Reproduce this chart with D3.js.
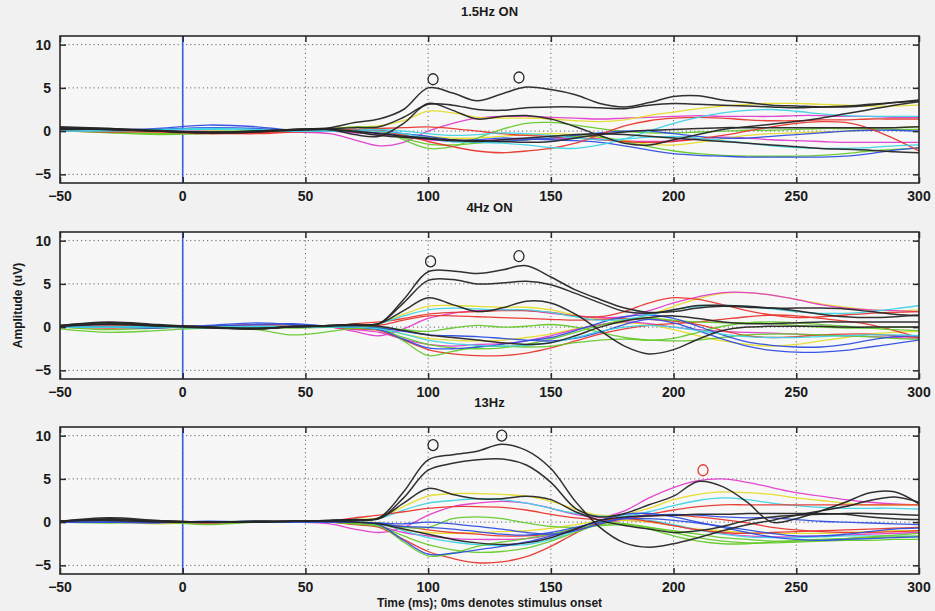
<!DOCTYPE html>
<html>
<head>
<meta charset="utf-8">
<script src="https://cdn.jsdelivr.net/npm/d3@7"></script>
<style>
  body { margin: 0; background: #f1f1f1; }
  svg { display: block; font-family: "Liberation Sans", Arial, sans-serif; }
</style>
</head>
<body>
<div id="chart"></div>
<script>
const TIME = [-50,-30,-10,10,30,45,60,70,80,90,100,110,120,130,140,150,160,170,180,190,200,210,220,230,240,250,260,270,280,290,300];
const X_TICKS = [-50,0,50,100,150,200,250,300];
const Y_TICKS = [-5,0,5,10];
const TITLES = ["1.5Hz ON", "4Hz ON", "13Hz"];

// 1.5Hz ON
const traces15 = [
  ["magenta", [0.2,0.2,0.1,0.0,0.0,-0.1,-0.3,-1.0,-1.7,-1.3,0.0,0.9,1.5,1.7,1.7,1.6,1.5,1.4,1.5,1.6,1.7,1.8,1.7,1.7,1.7,1.8,1.8,1.7,1.7,1.6,1.6]],
  ["magenta", [0.0,0.1,0.0,-0.1,0.0,0.0,0.0,-0.2,-0.4,-0.7,-1.0,-1.1,-1.1,-1.0,-1.0,-0.9,-0.8,-0.9,-1.1,-1.2,-1.1,-0.9,-0.7,-0.8,-1.0,-1.1,-1.2,-1.3,-1.3,-1.3,-1.3]],
  ["yellow",  [0.3,0.2,0.0,-0.2,0.0,0.1,0.3,0.5,0.6,1.2,2.3,2.1,1.6,1.5,1.5,1.4,1.2,1.1,1.3,1.8,2.2,2.6,2.9,3.1,3.2,3.2,3.1,3.0,2.9,2.9,3.0]],
  ["yellow",  [0.0,0.0,-0.1,0.0,0.1,0.0,0.0,0.0,-0.2,-0.4,-0.6,-0.8,-0.8,-0.6,-0.4,-0.3,-0.4,-0.7,-1.1,-1.5,-1.6,-1.3,-0.9,-0.5,-0.3,-0.2,-0.1,0.0,0.2,0.4,0.5]],
  ["green",   [0.1,-0.2,-0.4,-0.3,-0.1,0.1,0.2,0.5,0.3,-1.0,-2.0,-1.8,-0.8,0.2,0.9,1.0,0.7,0.3,0.0,-0.2,-0.2,-0.1,0.0,0.1,0.1,0.2,0.3,0.3,0.3,0.2,0.2]],
  ["green",   [0.0,-0.1,-0.3,-0.2,0.0,0.0,0.0,0.2,0.0,-0.8,-1.5,-1.6,-1.4,-1.2,-1.0,-0.8,-0.6,-0.7,-1.2,-1.8,-2.3,-2.6,-2.8,-2.9,-2.9,-2.9,-2.8,-2.6,-2.3,-2.1,-2.0]],
  ["blue",    [0.0,0.1,0.3,0.7,0.5,0.1,0.1,0.0,-0.2,-0.5,-0.9,-1.2,-1.0,-0.8,-0.9,-1.0,-1.1,-1.3,-1.7,-2.2,-2.6,-2.8,-2.9,-3.0,-3.0,-3.0,-3.0,-2.9,-2.6,-2.2,-1.9]],
  ["blue",    [0.0,0.0,0.2,0.4,0.3,0.0,0.0,0.0,0.1,-0.3,-0.6,-1.0,-1.3,-1.2,-1.0,-0.8,-0.5,-0.2,0.0,0.0,-0.3,-0.6,-0.8,-0.8,-0.6,-0.4,-0.2,0.0,0.1,0.1,0.0]],
  ["red",     [0.0,-0.1,-0.1,-0.3,-0.2,0.0,0.0,0.0,0.1,-0.5,-1.2,-1.8,-2.3,-2.5,-2.3,-2.0,-1.4,-0.4,0.6,1.2,1.5,1.6,1.5,1.3,1.2,1.2,1.3,1.3,1.4,1.4,1.4]],
  ["red",     [0.1,0.0,0.0,-0.2,-0.3,-0.1,0.0,0.2,0.3,0.4,0.5,0.3,0.0,-0.3,-0.5,-0.6,-0.8,-1.0,-1.2,-1.3,-1.2,-0.9,-0.5,0.0,0.5,0.9,1.1,1.0,0.3,-0.9,-2.3]],
  ["cyan",    [0.0,0.1,0.2,0.3,0.2,0.0,0.0,0.0,0.0,-0.3,-0.8,-1.2,-1.3,-1.4,-1.6,-1.9,-2.0,-1.6,-0.9,0.0,0.9,1.6,2.1,2.4,2.5,2.3,2.0,1.8,1.7,1.7,1.7]],
  ["cyan",    [0.0,0.0,0.1,0.2,0.1,0.0,0.0,0.1,0.2,0.0,-0.3,-0.5,-0.4,-0.2,-0.3,-0.5,-0.8,-1.0,-0.9,-0.7,-0.6,-0.8,-1.1,-1.4,-1.7,-1.9,-2.0,-2.0,-1.9,-1.7,-1.6]],
  ["black",   [0.5,0.3,0.1,-0.2,0.0,0.2,0.4,1.0,1.4,2.5,5.0,4.4,3.5,4.3,5.1,4.8,4.2,3.2,2.8,3.3,4.0,4.1,3.6,3.3,3.0,2.9,2.8,2.8,3.0,3.3,3.6]],
  ["black",   [0.4,0.3,0.0,-0.2,-0.1,0.2,0.3,0.4,0.5,1.6,3.1,3.0,2.5,2.4,2.7,2.8,2.8,2.7,2.6,3.0,3.2,3.1,3.0,2.9,2.8,2.7,2.8,2.9,3.1,3.3,3.5]],
  ["black",   [0.3,0.2,0.0,-0.1,0.0,0.2,0.2,-0.4,-0.6,0.9,3.2,2.4,1.4,1.7,1.8,1.4,0.5,-0.5,-1.4,-1.6,-1.0,-0.4,0.2,0.5,0.8,1.1,1.5,2.0,2.5,3.0,3.4]],
  ["black",   [0.2,0.2,0.0,-0.2,-0.1,0.1,0.2,0.0,-0.3,-0.6,-0.8,-1.0,-1.1,-1.2,-1.3,-1.2,-0.8,-0.4,-0.1,0.1,0.2,0.3,0.4,0.4,0.4,0.4,0.4,0.4,0.4,0.4,0.5]],
  ["black",   [0.3,0.2,0.0,-0.1,0.0,0.1,0.2,-0.1,-0.5,-0.7,-0.9,-1.1,-1.2,-1.0,-0.8,-0.6,-0.4,-0.3,-0.4,-0.6,-0.8,-1.0,-1.2,-1.4,-1.6,-1.8,-2.0,-2.1,-2.2,-2.4,-2.5]]
];
const peaks15 = [[102, 6.0, "black"], [137, 6.2, "black"]];

// 4Hz ON
const traces4 = [
  ["yellow",  [0.0,0.1,0.0,0.0,0.2,0.1,0.1,0.2,0.4,1.5,2.4,2.5,2.4,2.3,2.3,2.0,1.4,0.9,0.8,1.4,2.4,3.3,3.9,4.0,3.7,3.2,2.7,2.3,2.0,1.9,2.0]],
  ["yellow",  [0.0,0.0,0.0,0.0,0.1,0.0,0.0,-0.1,-0.2,-0.8,-1.3,-1.5,-1.6,-1.5,-1.2,-0.8,-0.2,0.3,0.5,0.3,-0.3,-1.0,-1.6,-2.0,-2.2,-2.0,-1.6,-1.2,-0.8,-0.6,-0.5]],
  ["magenta", [0.1,0.1,0.0,0.1,0.2,0.0,0.0,-0.5,-1.0,-0.2,1.0,1.6,1.9,2.0,1.9,1.6,1.3,1.1,1.2,1.9,2.8,3.5,4.0,4.0,3.7,3.2,2.6,2.2,2.0,1.9,1.8]],
  ["magenta", [0.0,0.0,0.0,-0.1,0.1,0.0,0.0,-0.3,-0.6,-1.4,-2.0,-2.2,-2.0,-1.9,-1.6,-1.0,-0.3,0.3,0.6,0.4,0.0,-0.3,-0.5,-0.6,-0.7,-0.8,-0.9,-1.0,-1.1,-1.2,-1.3]],
  ["red",     [0.0,0.1,0.2,0.1,0.3,0.2,0.1,0.4,0.6,1.0,1.5,1.7,1.8,1.9,1.9,1.7,1.3,1.2,1.8,2.8,3.4,3.2,2.6,1.9,1.4,1.1,1.2,1.4,1.6,1.7,1.8]],
  ["red",     [0.0,0.0,0.1,0.0,0.0,0.1,0.0,0.1,0.2,0.8,1.3,1.3,1.2,1.1,1.0,0.9,0.8,0.9,1.0,0.9,0.7,0.3,-0.4,-1.0,-1.2,-1.1,-0.9,-0.8,-0.8,-1.0,-1.2]],
  ["red",     [0.0,-0.1,0.0,-0.1,-0.1,0.0,0.0,-0.2,-0.4,-1.5,-2.6,-3.1,-3.3,-3.3,-3.0,-2.4,-1.6,-0.8,-0.2,0.2,0.4,0.6,0.9,1.2,1.4,1.3,1.0,0.7,0.3,-0.4,-1.2]],
  ["green",   [-0.2,-0.6,-0.4,-0.1,-0.3,-0.9,-0.5,-0.1,0.0,-1.6,-3.3,-2.8,-2.3,-2.2,-2.3,-2.2,-1.8,-1.5,-1.4,-1.5,-1.6,-1.5,-1.2,-0.9,-0.8,-0.8,-0.9,-1.0,-1.1,-1.3,-1.4]],
  ["green",   [0.0,-0.3,-0.1,0.1,0.0,-0.1,0.0,0.0,-0.1,-0.3,-0.5,-0.1,0.2,0.0,0.1,0.3,0.0,-0.6,-1.2,-1.5,-1.3,-0.6,0.1,0.5,0.6,0.5,0.3,0.1,-0.1,-0.3,-0.4]],
  ["green",   [0.0,0.0,0.0,0.0,0.0,0.0,0.0,-0.1,-0.3,-1.2,-2.0,-2.4,-2.5,-2.4,-2.0,-1.4,-0.6,0.2,0.8,1.0,0.8,0.6,0.5,0.5,0.4,0.2,0.0,-0.1,-0.1,0.0,0.0]],
  ["blue",    [0.0,0.0,-0.1,0.2,0.5,0.3,0.1,0.0,-0.3,-1.4,-2.4,-2.5,-2.3,-2.0,-1.6,-1.2,-0.4,0.5,1.2,1.4,1.0,0.1,-0.9,-1.7,-2.1,-2.3,-2.3,-2.0,-1.5,-1.1,-1.0]],
  ["blue",    [0.0,0.0,0.0,0.1,0.3,0.4,0.1,0.0,-0.1,-0.5,-0.9,-1.0,-1.1,-1.3,-1.5,-1.6,-1.3,-0.6,0.3,0.9,0.5,-0.4,-1.4,-2.2,-2.7,-2.9,-2.9,-2.7,-2.3,-1.9,-1.5]],
  ["cyan",    [0.0,0.0,0.1,0.0,0.1,0.1,0.1,0.2,0.4,1.3,2.0,2.2,2.1,2.0,2.0,1.7,1.2,0.8,0.9,1.4,2.0,2.4,2.5,2.4,2.1,1.8,1.6,1.6,1.8,2.1,2.5]],
  ["cyan",    [0.0,0.0,0.0,-0.1,0.0,0.0,0.0,0.0,-0.2,-0.8,-1.5,-1.9,-2.1,-2.2,-2.1,-1.8,-1.2,-0.5,0.0,0.2,0.0,-0.4,-0.8,-1.1,-1.2,-1.2,-1.1,-1.0,-0.9,-0.9,-1.0]],
  ["black",   [0.2,0.6,0.3,0.0,-0.2,0.1,0.2,0.3,0.4,3.2,6.4,6.5,6.2,6.6,7.1,5.8,4.3,3.2,2.2,1.7,1.8,2.2,2.4,2.3,2.2,2.2,2.2,2.1,1.8,1.5,1.3]],
  ["black",   [0.2,0.5,0.2,0.0,-0.2,0.1,0.2,0.3,0.4,2.8,5.4,5.5,5.0,5.1,5.3,4.9,3.9,2.8,1.8,1.6,2.0,2.5,2.5,2.4,2.2,1.9,1.5,1.2,1.1,1.2,1.4]],
  ["black",   [0.1,0.4,0.2,0.0,-0.1,0.0,0.2,0.3,0.4,1.9,3.4,2.6,1.8,2.2,3.0,2.8,1.5,-0.4,-2.2,-3.1,-2.6,-1.4,-0.4,0.0,0.1,0.1,0.1,0.0,0.0,0.0,0.0]],
  ["black",   [0.1,0.3,0.1,-0.1,-0.2,0.0,0.1,0.2,0.1,-0.4,-0.9,-1.2,-1.5,-1.8,-2.0,-1.8,-1.0,0.0,0.7,1.1,1.3,1.0,0.6,0.4,0.4,0.5,0.6,0.6,0.6,0.6,0.6]]
];
const peaks4 = [[101, 7.6, "black"], [137, 8.2, "black"]];

// 13Hz
const traces13 = [
  ["magenta", [0.0,0.1,0.0,-0.1,0.1,0.0,-0.2,-0.8,-1.2,-0.6,0.8,1.8,2.2,2.4,2.2,1.6,0.9,0.6,1.3,2.8,4.0,4.8,5.0,4.6,4.0,3.4,3.0,2.6,2.3,2.1,2.0]],
  ["magenta", [0.0,0.0,0.0,0.0,0.0,0.0,0.0,-0.2,-0.5,-1.2,-1.6,-1.9,-2.0,-2.0,-1.9,-1.5,-0.9,-0.2,0.2,0.0,-0.4,-0.9,-1.3,-1.6,-1.7,-1.7,-1.6,-1.5,-1.4,-1.3,-1.2]],
  ["yellow",  [0.0,0.1,0.0,-0.1,0.0,0.1,0.1,0.3,0.5,1.8,3.0,3.3,3.3,3.2,3.0,2.4,1.5,0.8,0.9,1.6,2.6,3.2,3.5,3.4,3.2,2.8,2.5,2.2,2.0,2.0,2.0]],
  ["yellow",  [0.0,0.0,-0.2,0.0,0.1,0.0,0.0,-0.1,-0.3,-0.9,-1.2,-1.3,-1.2,-1.1,-1.0,-0.7,-0.3,0.1,0.2,0.0,-0.4,-0.8,-1.0,-1.2,-1.3,-1.3,-1.3,-1.2,-1.1,-1.0,-1.0]],
  ["cyan",    [0.0,0.0,0.1,0.0,0.1,0.0,0.1,0.2,0.4,1.4,2.2,2.5,2.7,2.6,2.2,1.6,1.0,0.7,0.7,1.2,1.9,2.5,2.8,2.6,2.2,1.9,1.7,1.6,1.6,1.6,1.5]],
  ["cyan",    [0.0,0.0,0.0,-0.1,0.0,0.0,0.0,-0.1,-0.2,-1.0,-1.8,-2.3,-2.6,-2.7,-2.6,-2.0,-1.0,0.0,0.4,0.2,-0.3,-0.9,-1.4,-1.7,-1.8,-1.8,-1.7,-1.6,-1.6,-1.6,-1.7]],
  ["red",     [0.0,0.1,0.0,0.0,0.0,0.1,0.1,0.5,0.8,1.2,1.6,1.8,1.8,1.7,1.4,0.9,0.5,0.3,0.5,0.9,1.4,1.8,2.0,2.0,2.0,2.0,2.0,2.0,2.0,2.0,2.0]],
  ["red",     [0.0,0.0,0.0,-0.1,0.0,0.0,0.0,-0.3,-0.6,-2.0,-3.4,-4.2,-4.7,-4.6,-4.0,-2.8,-1.3,0.0,0.4,0.1,-0.4,-0.9,-1.2,-1.3,-1.2,-1.1,-1.0,-0.9,-0.8,-0.7,-0.6]],
  ["red",     [0.0,0.0,0.1,0.0,0.0,0.0,0.0,-0.1,-0.2,-0.5,-0.9,-1.2,-1.4,-1.6,-1.6,-1.4,-0.9,-0.2,0.4,0.7,0.8,0.6,0.3,-0.1,-0.6,-0.9,-1.1,-1.2,-1.2,-1.1,-1.0]],
  ["green",   [0.0,-0.1,0.0,-0.3,0.0,0.0,0.0,-0.2,-0.4,-2.3,-3.9,-3.6,-2.8,-2.3,-1.9,-1.4,-0.7,0.0,-0.2,-0.8,-1.6,-2.2,-2.5,-2.5,-2.3,-2.1,-2.0,-1.9,-1.8,-1.7,-1.6]],
  ["green",   [0.0,0.0,0.0,0.0,0.0,0.0,0.0,-0.2,-0.5,-1.6,-2.6,-3.2,-3.5,-3.4,-3.0,-2.2,-1.2,-0.3,-0.2,-0.6,-1.2,-1.8,-2.2,-2.4,-2.4,-2.3,-2.2,-2.1,-2.1,-2.0,-2.0]],
  ["green",   [0.0,0.0,0.0,0.0,0.0,0.0,0.0,0.0,-0.1,-0.6,-0.6,0.4,0.6,0.4,-0.1,-0.5,-0.6,-0.4,-0.3,-0.6,-1.0,-1.4,-1.8,-2.0,-2.2,-2.2,-2.1,-1.9,-1.7,-1.5,-1.3]],
  ["blue",    [0.0,0.0,-0.1,0.1,0.0,0.1,0.1,0.0,-0.3,-2.1,-3.7,-3.6,-3.2,-2.8,-2.3,-1.6,-0.8,0.2,0.9,1.0,0.6,0.0,-0.6,-1.2,-1.7,-2.0,-2.1,-2.0,-1.9,-1.8,-1.7]],
  ["blue",    [0.0,0.0,0.0,0.0,0.1,0.0,0.0,0.0,-0.2,-0.5,-0.6,-0.8,-1.1,-1.4,-1.5,-1.2,-0.6,0.0,0.4,0.4,0.2,-0.1,-0.5,-0.9,-1.3,-1.6,-1.6,-1.4,-1.1,-0.8,-0.7]],
  ["blue",    [0.0,0.0,0.0,0.0,0.0,0.0,0.0,0.0,-0.1,-0.2,0.0,-0.2,-0.5,-0.8,-1.2,-1.4,-1.0,-0.2,0.5,0.8,0.9,0.8,0.6,0.5,0.5,0.3,0.1,0.0,-0.1,-0.2,-0.3]],
  ["black",   [0.1,0.4,0.1,0.0,0.1,0.1,0.2,0.3,0.5,3.5,7.2,7.8,8.2,9.0,8.3,6.2,2.4,-0.6,-2.4,-2.9,-2.5,-1.8,-1.0,-0.3,0.2,0.8,1.3,1.8,2.5,2.9,2.3]],
  ["black",   [0.1,0.5,0.2,0.0,0.1,0.1,0.2,0.3,0.4,2.8,6.0,6.8,7.2,7.3,6.6,4.6,1.6,0.6,1.0,2.0,3.0,4.7,4.1,2.3,0.0,0.4,1.3,2.3,3.4,3.5,2.1]],
  ["black",   [0.1,0.3,0.1,0.0,0.0,0.1,0.2,0.2,0.4,2.2,3.9,3.2,2.7,2.7,3.0,2.6,1.2,0.2,-0.4,-0.8,-1.2,-1.0,-0.5,0.2,0.6,0.8,0.9,1.0,1.0,0.9,0.8]],
  ["black",   [0.1,0.2,0.0,0.0,0.0,0.1,0.1,0.0,-0.2,-0.8,-1.4,-2.0,-2.4,-2.6,-2.4,-1.8,-0.8,0.2,0.6,0.7,0.8,0.9,0.9,1.0,1.0,1.0,1.0,0.9,0.6,0.4,0.3]]
];
const peaks13 = [[102, 8.9, "black"], [130, 10.0, "black"], [212, 6.0, "red"]];

const panelData = [
  { title: TITLES[0], traces: traces15, peaks: peaks15 },
  { title: TITLES[1], traces: traces4, peaks: peaks4 },
  { title: TITLES[2], traces: traces13, peaks: peaks13 }
];

const W = 935, H = 611;
const tops = [36, 232, 427];
const plotH = 147;
const left = 60, right = 919;

const colour = d3.scaleOrdinal()
  .domain(["black", "blue", "red", "green", "magenta", "cyan", "yellow"])
  .range(["#262626", "#2f4ee0", "#e8372e", "#66c92c", "#e03dcc", "#3fd3e4", "#e4dc2a"]);

const svg = d3.select("#chart").append("svg")
  .attr("width", W).attr("height", H);

svg.append("rect").attr("width", W).attr("height", H).attr("fill", "#f1f1f1");

const x = d3.scaleLinear().domain([-50, 300]).range([left, right]);

panelData.forEach((p, i) => {
  const top = tops[i], bottom = top + plotH;
  const y = d3.scaleLinear().domain([-6, 11]).range([bottom, top]);
  const g = svg.append("g");

  g.append("rect")
    .attr("x", left).attr("y", top)
    .attr("width", right - left).attr("height", plotH)
    .attr("fill", "#f7f7f7");

  const clipId = "clip" + i;
  g.append("clipPath").attr("id", clipId)
    .append("rect").attr("x", left).attr("y", top)
    .attr("width", right - left).attr("height", plotH);

  // dotted grid
  g.append("g").selectAll("line")
    .data(Y_TICKS).enter().append("line")
    .attr("x1", left).attr("x2", right)
    .attr("y1", d => y(d)).attr("y2", d => y(d))
    .attr("stroke", "#666").attr("stroke-width", 1)
    .attr("stroke-dasharray", "1.2,3");
  g.append("g").selectAll("line")
    .data(X_TICKS.filter(d => d > -50 && d < 300)).enter().append("line")
    .attr("x1", d => x(d)).attr("x2", d => x(d))
    .attr("y1", top).attr("y2", bottom)
    .attr("stroke", "#666").attr("stroke-width", 1)
    .attr("stroke-dasharray", "1.2,3");

  // stimulus onset
  g.append("line")
    .attr("x1", x(0)).attr("x2", x(0))
    .attr("y1", top).attr("y2", bottom)
    .attr("stroke", "#3a5ee0").attr("stroke-width", 1.6);

  const line = d3.line()
    .x((d, k) => x(TIME[k]))
    .y(d => y(d))
    .curve(d3.curveCatmullRom.alpha(0.5));

  g.append("g").attr("clip-path", `url(#${clipId})`)
    .selectAll("path")
    .data(p.traces).enter().append("path")
    .attr("d", d => line(d[1]))
    .attr("fill", "none")
    .attr("stroke", d => colour(d[0]))
    .attr("stroke-width", d => d[0] === "black" ? 1.5 : 1.3)
    .attr("stroke-opacity", 0.95);

  // peak markers
  g.selectAll("ellipse.peak")
    .data(p.peaks).enter().append("ellipse")
    .attr("class", "peak")
    .attr("cx", d => x(d[0])).attr("cy", d => y(d[1]))
    .attr("rx", 5).attr("ry", 5.5)
    .attr("fill", "none")
    .attr("stroke", d => colour(d[2]))
    .attr("stroke-width", 1.3);

  // frame and inward ticks
  g.append("rect")
    .attr("x", left).attr("y", top)
    .attr("width", right - left).attr("height", plotH)
    .attr("fill", "none").attr("stroke", "#2a2a2a").attr("stroke-width", 1.6);

  const xAxisB = d3.axisBottom(x).tickValues(X_TICKS).tickSizeInner(-6).tickSizeOuter(0).tickFormat("");
  const xAxisT = d3.axisTop(x).tickValues(X_TICKS).tickSizeInner(-6).tickSizeOuter(0).tickFormat("");
  const yAxisL = d3.axisLeft(y).tickValues(Y_TICKS).tickSizeInner(-6).tickSizeOuter(0).tickFormat("");
  const yAxisR = d3.axisRight(y).tickValues(Y_TICKS).tickSizeInner(-6).tickSizeOuter(0).tickFormat("");
  [[xAxisB, `translate(0,${bottom})`], [xAxisT, `translate(0,${top})`],
   [yAxisL, `translate(${left},0)`], [yAxisR, `translate(${right},0)`]].forEach(([ax, tr]) => {
    const a = g.append("g").attr("transform", tr).call(ax);
    a.select(".domain").remove();
    a.selectAll("line").attr("stroke", "#2a2a2a").attr("stroke-width", 1.5);
  });

  // tick labels
  g.selectAll("text.xt")
    .data(X_TICKS).enter().append("text")
    .attr("class", "xt")
    .attr("x", d => x(d)).attr("y", bottom + 18)
    .attr("text-anchor", "middle")
    .attr("font-size", 14).attr("font-weight", "bold").attr("fill", "#1a1a1a")
    .text(d => d < 0 ? "\u2212" + Math.abs(d) : d);
  g.selectAll("text.yt")
    .data(Y_TICKS).enter().append("text")
    .attr("class", "yt")
    .attr("x", left - 9).attr("y", d => y(d) + 5)
    .attr("text-anchor", "end")
    .attr("font-size", 14).attr("font-weight", "bold").attr("fill", "#1a1a1a")
    .text(d => d < 0 ? "\u2212" + Math.abs(d) : d);

  g.append("text")
    .attr("x", (left + right) / 2).attr("y", top - 20)
    .attr("text-anchor", "middle")
    .attr("font-size", 13).attr("font-weight", "bold").attr("fill", "#1a1a1a")
    .text(p.title);
});

svg.append("text")
  .attr("transform", `translate(22,${(tops[1] + tops[1] + plotH) / 2}) rotate(-90)`)
  .attr("text-anchor", "middle")
  .attr("font-size", 12).attr("font-weight", "bold").attr("fill", "#1a1a1a")
  .text("Amplitude (uV)");

svg.append("text")
  .attr("x", (left + right) / 2).attr("y", 607)
  .attr("text-anchor", "middle")
  .attr("font-size", 12).attr("font-weight", "bold").attr("fill", "#1a1a1a")
  .text("Time (ms); 0ms denotes stimulus onset");
</script>
</body>
</html>
